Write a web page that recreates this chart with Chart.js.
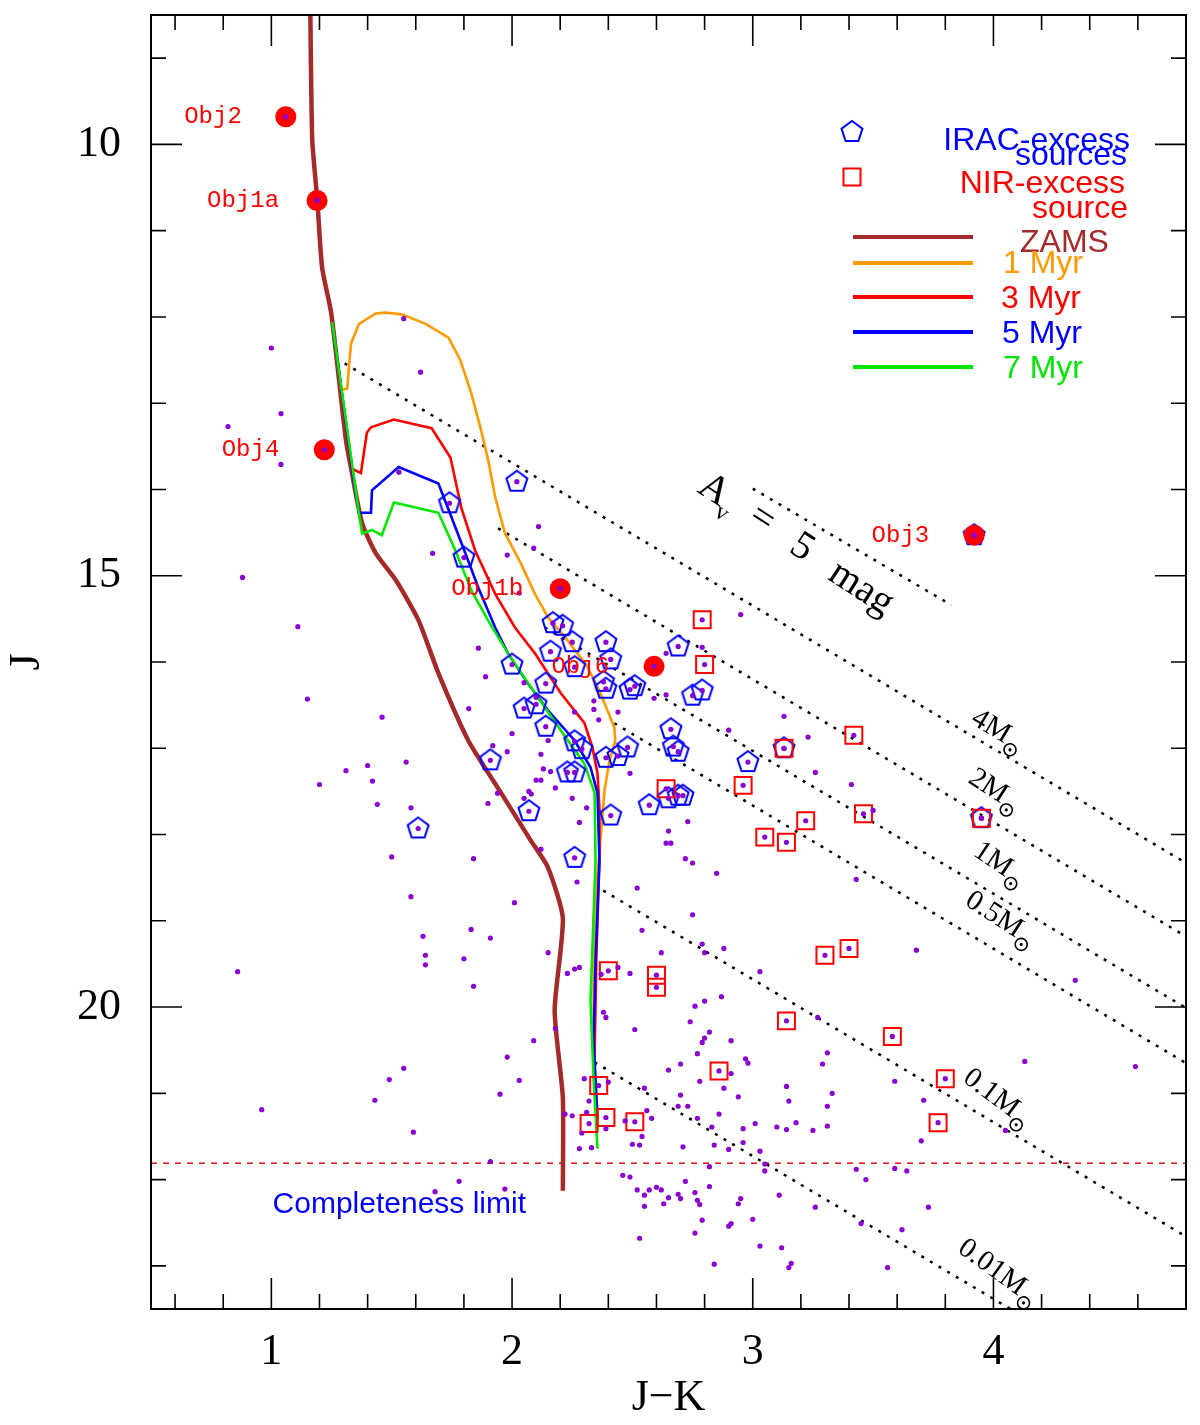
<!DOCTYPE html>
<html>
<head>
<meta charset="utf-8">
<title>J vs J-K</title>
<script src="https://cdn.jsdelivr.net/npm/chart.js@4.4.1/dist/chart.umd.min.js"></script>
<style>
  html, body { margin: 0; padding: 0; background: #fff; }
</style>
</head>
<body>
<canvas id="chart" width="1200" height="1425"></canvas>
<script>
'use strict';

// axis ticks
const xTickLabels = [1, 2, 3, 4];
const yTickLabels = [10, 15, 20];

// field stars [J-K, J]
const fieldStars = [
  [1.55,12.02],[1.62,12.64],[1.00,12.36],[1.04,13.12],[0.82,13.27],[1.04,13.71],[1.53,13.80],[0.88,15.02],
  [1.11,15.59],[1.15,16.43],[1.31,17.26],[1.40,17.20],[1.20,17.42],
  [2.11,14.43],[1.67,14.74],[1.98,14.76],[2.09,14.68],[2.03,15.20],[1.86,15.84],[1.89,16.17],[2.95,15.45],
  [2.79,15.83],[2.64,15.90],[2.59,16.42],[2.64,16.38],[2.34,16.45],[2.34,16.55],[2.36,16.67],[2.44,16.58],
  [2.26,16.58],[1.82,16.54],[2.05,16.24],[2.10,16.41],[2.00,16.83],[1.46,16.64],[2.90,16.79],[2.15,16.91],
  [1.98,17.04],[2.12,17.07],[1.92,16.97],[1.56,17.16],[1.42,17.38],[2.13,17.24],[2.16,17.27],[2.10,17.37],
  [2.12,17.37],[2.18,17.46],[2.07,17.50],[2.08,17.53],[1.94,17.52],[1.90,17.64],[2.05,17.58],[2.25,17.58],
  [2.31,17.69],[2.49,17.29],[2.65,17.96],[2.64,18.10],[2.66,18.10],[2.73,17.85],[2.28,17.86],[1.44,17.65],
  [1.58,17.69],[1.50,18.26],[1.84,18.28],[2.72,18.28],
  [3.13,16.63],[3.23,16.87],[3.26,17.28],[3.41,17.42],[3.50,17.72],[2.75,18.33],[2.85,18.45],[3.43,18.52],
  [2.75,18.93],[2.79,19.27],[2.80,19.37],[2.88,19.32],[3.03,19.59],[3.68,19.34],[4.34,19.69],
  [1.58,18.72],[2.01,18.79],[2.12,18.17],[2.27,18.55],[2.52,18.62],[1.63,19.18],[1.83,19.10],[1.91,19.20],
  [1.64,19.40],[1.64,19.51],[1.80,19.44],[2.15,19.37],[0.86,19.59],[1.84,19.76],[2.23,19.61],[2.26,19.56],
  [2.28,19.54],[2.37,19.62],[2.44,19.54],[2.49,19.61],[2.54,19.11],[2.38,20.06],[2.39,20.12],[2.51,20.26],
  [2.18,20.25],[2.09,20.39],[1.98,20.58],[1.55,20.71],[1.49,20.84],[2.03,20.85],[1.43,21.08],[1.95,21.01],
  [0.96,21.19],[2.30,20.83],[2.40,20.87],[2.32,21.09],[2.55,20.94],[2.56,21.20],[2.22,21.24],[2.25,21.26],
  [2.31,21.22],[2.47,21.32],[2.39,21.41],[2.29,21.46],[2.54,21.50],[1.59,21.45],[2.28,21.64],[2.33,21.63],
  [2.50,21.59],[2.53,21.60],[1.91,21.79],[1.78,22.02],[1.68,22.14],[1.97,22.11],[2.46,21.95],[2.49,21.97],
  [2.52,22.12],[2.55,22.18],[2.55,22.31],[2.53,22.68],
  [2.62,19.37],[2.76,19.99],[2.80,19.93],[2.87,19.88],[2.74,20.17],[2.82,20.29],[2.80,20.36],[2.79,20.41],
  [2.91,20.39],[2.77,20.54],[2.65,20.73],[2.70,20.66],[2.97,20.60],[2.98,20.65],[2.91,20.77],[2.78,20.86],
  [2.88,20.94],[2.94,21.04],[2.86,21.24],[2.70,21.02],[2.69,21.15],[2.73,21.15],[2.77,21.29],[2.83,21.39],
  [2.84,21.60],[2.90,21.65],[2.96,21.57],[2.96,21.41],[3.01,21.35],[3.03,21.67],[3.05,21.82],[3.05,21.90],
  [2.58,21.29],[2.71,21.62],[3.10,21.39],[3.14,21.42],[3.18,21.34],[3.25,21.43],[3.31,21.38],[3.15,21.09],
  [3.14,20.92],[3.31,21.15],[3.33,21.00],[3.29,20.66],[3.31,20.53],[3.59,20.86],[3.71,21.08],[3.70,21.55],
  [4.05,21.43],[4.13,20.63],[4.59,20.69],[3.27,20.12],
  [2.57,22.12],[2.60,22.09],[2.62,22.12],[2.65,22.21],[2.63,22.28],[2.69,22.17],[2.70,22.22],[2.72,22.02],
  [2.76,22.15],[2.77,22.24],[2.78,22.29],[2.82,22.08],[2.82,21.85],[2.94,22.28],[2.95,22.22],[2.79,22.47],
  [2.76,22.62],[2.90,22.54],[2.91,22.51],[3.00,22.46],[3.11,22.18],[3.26,22.32],[3.43,21.88],[3.47,22.00],
  [3.59,21.87],[3.64,21.90],[3.45,22.51],[3.62,22.58],[3.73,22.32],[2.84,22.98],[3.03,22.77],[3.12,22.79],
  [3.16,22.97],[3.15,23.02],[3.56,23.02]
];

// IRAC-excess sources
const iracSources = [
  [2.02,13.91],[1.74,14.16],[1.80,14.79],[2.17,15.55],[2.21,15.58],[2.25,15.77],[2.16,15.88],[2.39,15.77],
  [2.41,15.97],[2.26,16.06],[2.69,15.82],[2.00,16.03],[2.38,16.23],[2.39,16.31],[2.49,16.32],[2.51,16.28],
  [2.75,16.39],[2.79,16.33],[2.14,16.25],[2.05,16.54],[2.10,16.49],[2.14,16.75],[2.26,16.92],[2.29,17.01],
  [2.48,16.99],[2.44,17.09],[2.39,17.11],[2.66,16.78],[2.67,16.98],[2.69,17.04],[2.23,17.28],[2.26,17.28],
  [1.91,17.14],[2.57,17.66],[2.65,17.58],[2.69,17.55],[2.71,17.55],[2.41,17.78],[2.07,17.73],[1.61,17.93],
  [2.26,18.27],[3.13,17.00],[2.98,17.16],[3.95,17.81],[3.92,14.53]
];

// NIR-excess sources
const nirSources = [
  [2.79,15.51],[2.80,16.03],[3.42,16.85],[3.13,17.00],[2.96,17.43],[3.22,17.84],[3.46,17.76],[3.05,18.03],
  [3.14,18.09],[3.30,19.40],[3.40,19.32],[3.95,17.81],[2.64,17.47],[2.40,19.58],[2.60,19.63],[2.60,19.77],
  [2.36,20.91],[2.39,21.28],[2.32,21.35],[2.51,21.33],[3.14,20.16],[2.86,20.74],[3.58,20.34],[3.80,20.83],
  [3.77,21.34]
];

// named objects
const objNames = ['Obj2', 'Obj1a', 'Obj4', 'Obj3', 'Obj1b', 'Obj6'];
const objPoints = [[1.06,9.68],[1.19,10.65],[1.22,13.54],[3.92,14.53],[2.20,15.15],[2.59,16.05]];

// ZAMS and isochrones
const zams = [
  [1.162,8.50],[1.170,9.95],[1.191,10.65],[1.211,11.43],[1.249,11.96],[1.310,13.43],[1.335,13.81],
  [1.377,14.39],[1.434,14.74],[1.517,15.05],[1.612,15.52],[1.694,16.13],[1.818,16.91],[1.955,17.52],
  [2.078,18.07],[2.149,18.38],[2.211,18.97],[2.177,20.04],[2.211,21.05],[2.211,22.13]
];
const iso1Myr = [
  [1.253,12.06],[1.290,12.85],[1.315,12.83],[1.323,12.56],[1.331,12.31],[1.364,12.08],[1.434,11.96],
  [1.476,11.95],[1.542,11.97],[1.641,12.08],[1.736,12.24],[1.785,12.50],[1.831,12.89],[1.872,13.32],
  [1.901,13.66],[1.930,14.09],[1.971,14.51],[2.037,14.86],[2.095,15.21],[2.149,15.48],[2.231,15.75],
  [2.314,16.06],[2.367,16.36],[2.425,16.76],[2.429,16.91],[2.405,17.14],[2.384,17.49],[2.367,18.07],
  [2.347,18.76],[2.339,19.46],[2.339,20.21]
];
const iso3Myr = [
  [1.253,12.06],[1.335,13.76],[1.372,13.81],[1.397,13.34],[1.414,13.28],[1.509,13.19],[1.666,13.29],
  [1.744,13.63],[1.789,14.21],[1.847,14.71],[1.930,15.21],[2.012,15.60],[2.095,15.90],[2.202,16.36],
  [2.301,16.71],[2.334,16.99],[2.355,17.29],[2.363,17.69],[2.363,18.30],[2.351,19.34],[2.343,20.58]
];
const iso5Myr = [
  [1.253,12.06],[1.344,13.93],[1.364,14.27],[1.414,14.27],[1.418,14.01],[1.529,13.74],[1.694,13.93],
  [1.748,14.32],[1.806,14.74],[1.860,15.14],[1.930,15.60],[1.983,15.90],[2.066,16.25],[2.149,16.56],
  [2.260,16.91],[2.326,17.22],[2.355,17.52],[2.363,18.30],[2.347,19.46],[2.339,20.39],[2.355,21.28]
];
const iso7Myr = [
  [1.253,12.06],[1.364,14.28],[1.377,14.51],[1.418,14.47],[1.459,14.53],[1.509,14.15],[1.694,14.27],
  [1.765,14.71],[1.831,15.17],[1.901,15.52],[1.983,15.90],[2.095,16.36],[2.202,16.79],[2.301,17.18],
  [2.343,17.52],[2.347,18.30],[2.335,19.23],[2.326,19.92],[2.339,20.85],[2.355,21.64]
];

// reddening vectors from the isochrone masses
const massNames = ['4M', '2M', '1M', '0.5M', '0.1M', '0.01M'];
const massStart = [[1.269,12.48],[1.942,14.45],[2.136,15.60],[2.425,16.71],[2.343,18.59],[2.343,20.64]];
const massEnd = [[4.80,18.33],[4.80,19.18],[4.80,20.01],[4.80,20.65],[4.80,22.66],[4.071,23.50]];
const avVector = [[3.00,13.99],[3.825,15.34]];
const completenessJ = 21.81;

// label placement (not data)
const objLabelDx = [-44, -38, -45, -45, -37, -45];
const massLabelAt = [[3.990,16.75,31],[3.978,17.44,33],[3.998,18.29,34],[4.002,18.93,33],[3.990,21.00,37],[3.994,23.02,36]];
const avLabelAt = [2.838, 14.01, 33];

function toXY(list) {
  return list.map(p => ({x: p[0], y: p[1]}));
}

function makePentagon(r, color, lw) {
  const c = document.createElement('canvas');
  const s = Math.ceil(2 * r + 2 * lw + 2);
  c.width = s; c.height = s;
  const g = c.getContext('2d');
  g.strokeStyle = color;
  g.lineWidth = lw;
  g.beginPath();
  for (let i = 0; i < 5; i++) {
    const a = -Math.PI / 2 + i * 2 * Math.PI / 5;
    const px = s / 2 + r * Math.cos(a);
    const py = s / 2 + r * Math.sin(a);
    if (i === 0) g.moveTo(px, py); else g.lineTo(px, py);
  }
  g.closePath();
  g.stroke();
  return c;
}

const pentagon = makePentagon(11, '#0000ff', 2);

const ZAMS_C = '#a52a2a', C1 = '#ff9900', C3 = '#ff0000', C5 = '#0000ff', C7 = '#00e600';
const DOT_C = '#8a00d4';

function lineSet(list, color, width, order, dash, tension) {
  return {
    data: toXY(list), showLine: true, pointRadius: 0, borderColor: color,
    borderWidth: width, borderDash: dash || [], fill: false, tension: tension || 0, order: order
  };
}

let datasets = [];
// purple dots: field plus the centres of every marked source
let allDots = fieldStars.concat(iracSources, nirSources, objPoints);
datasets.push({data: toXY(allDots), pointRadius: 2.6, pointBackgroundColor: DOT_C, pointBorderWidth: 0, order: 0});
datasets.push({data: toXY(objPoints), pointRadius: 10.5, pointBackgroundColor: '#ff0000', pointBorderWidth: 0, order: 1});
datasets.push({data: toXY(nirSources), pointStyle: 'rect', pointRadius: 12, pointBorderColor: '#ff0000',
  pointBackgroundColor: 'rgba(0,0,0,0)', pointBorderWidth: 2, order: 2});
datasets.push({data: toXY(iracSources), pointStyle: pentagon, pointRadius: 11, order: 3});
datasets.push(lineSet(iso7Myr, C7, 2.6, 4));
datasets.push(lineSet(iso5Myr, C5, 2.6, 5));
datasets.push(lineSet(iso3Myr, C3, 2.6, 6));
datasets.push(lineSet(iso1Myr, C1, 2.6, 7));
datasets.push(lineSet(zams, ZAMS_C, 4.5, 8, [], 0.2));
for (let i = 0; i < massNames.length; i++) {
  datasets.push(lineSet([massStart[i], massEnd[i]], '#000', 2.5, 9, [3, 7]));
}
datasets.push(lineSet(avVector, '#000', 2.5, 9, [3, 7]));
datasets.push(lineSet([[0.5, completenessJ], [4.8, completenessJ]], '#ee1c25', 1.6, 9, [6, 6]));

function drawSun(ctx, cx, cy) {
  ctx.beginPath();
  ctx.arc(cx, cy, 6, 0, 2 * Math.PI);
  ctx.lineWidth = 1.6;
  ctx.stroke();
  ctx.beginPath();
  ctx.arc(cx, cy, 1.6, 0, 2 * Math.PI);
  ctx.fill();
}

const decor = {
  id: 'decor',
  afterDraw(chart) {
    const ctx = chart.ctx;
    const a = chart.chartArea;
    const xs = chart.scales.x, ys = chart.scales.y;
    ctx.save();

    // frame and inward ticks
    ctx.strokeStyle = '#000';
    ctx.lineWidth = 2;
    ctx.strokeRect(a.left, a.top, a.right - a.left, a.bottom - a.top);
    ctx.lineWidth = 1.6;
    ctx.beginPath();
    for (let i = 3; i <= 23; i++) {
      const px = xs.getPixelForValue(i / 5);
      const len = (i % 5 === 0) ? 31 : 15;
      ctx.moveTo(px, a.bottom); ctx.lineTo(px, a.bottom - len);
      ctx.moveTo(px, a.top); ctx.lineTo(px, a.top + len);
    }
    for (let j = 9; j <= 23; j++) {
      const py = ys.getPixelForValue(j);
      const len = (j % 5 === 0) ? 31 : 15;
      ctx.moveTo(a.left, py); ctx.lineTo(a.left + len, py);
      ctx.moveTo(a.right, py); ctx.lineTo(a.right - len, py);
    }
    ctx.stroke();

    // object names
    ctx.fillStyle = '#ff0000';
    ctx.font = '24px "Liberation Mono"';
    ctx.textAlign = 'right';
    ctx.textBaseline = 'middle';
    objNames.forEach((name, i) => {
      ctx.fillText(name, xs.getPixelForValue(objPoints[i][0]) + objLabelDx[i], ys.getPixelForValue(objPoints[i][1]));
    });

    // mass labels on the reddening vectors
    ctx.fillStyle = '#000';
    ctx.strokeStyle = '#000';
    massNames.forEach((name, i) => {
      const m = massLabelAt[i];
      ctx.save();
      ctx.translate(xs.getPixelForValue(m[0]), ys.getPixelForValue(m[1]));
      ctx.rotate(m[2] * Math.PI / 180);
      ctx.font = '29px "Liberation Serif"';
      ctx.textAlign = 'center';
      ctx.textBaseline = 'middle';
      ctx.fillText(name, 0, 0);
      const w = ctx.measureText(name).width;
      drawSun(ctx, w / 2 + 8, 10);
      ctx.restore();
    });

    // A_v = 5 mag
    ctx.save();
    ctx.translate(xs.getPixelForValue(avLabelAt[0]), ys.getPixelForValue(avLabelAt[1]));
    ctx.rotate(avLabelAt[2] * Math.PI / 180);
    ctx.textAlign = 'center';
    ctx.textBaseline = 'middle';
    ctx.font = '40px "Liberation Serif"';
    ctx.fillText('A', 0, 0);
    ctx.fillText('=', 56, -2);
    ctx.fillText('5', 105, 0);
    ctx.fillText('mag', 177, 2);
    ctx.font = '24px "Liberation Serif"';
    ctx.fillText('v', 19, 15);
    ctx.restore();

    // completeness label
    ctx.fillStyle = '#0000ff';
    ctx.font = '30px "Liberation Sans"';
    ctx.textAlign = 'left';
    ctx.textBaseline = 'alphabetic';
    ctx.fillText('Completeness limit', xs.getPixelForValue(1.005), ys.getPixelForValue(22.39));

    // legend
    ctx.drawImage(pentagon, 852 - pentagon.width / 2, 132 - pentagon.height / 2);
    ctx.strokeStyle = '#ff0000';
    ctx.lineWidth = 2;
    ctx.strokeRect(852 - 8.5, 177 - 8.5, 17, 17);
    ctx.font = '32px "Liberation Sans"';
    ctx.textAlign = 'right';
    ctx.fillStyle = '#0000ff';
    ctx.fillText('IRAC-excess', 1130, 150);
    ctx.fillText('sources', 1127, 165);
    ctx.fillStyle = '#ff0000';
    ctx.fillText('NIR-excess', 1125, 193);
    ctx.fillText('source', 1128, 218);
    const leg = [['ZAMS', ZAMS_C, 237, 1020, 252], ['1 Myr', C1, 263, 1003, 273], ['3 Myr', C3, 297, 1001, 308],
                 ['5 Myr', C5, 332, 1002, 343], ['7 Myr', C7, 367, 1003, 378]];
    ctx.textAlign = 'left';
    ctx.lineWidth = 4;
    leg.forEach(l => {
      ctx.strokeStyle = l[1];
      ctx.beginPath(); ctx.moveTo(853, l[2]); ctx.lineTo(973, l[2]); ctx.stroke();
      ctx.fillStyle = l[1];
      ctx.fillText(l[0], l[3], l[4]);
    });
    ctx.restore();
  }
};

new Chart(document.getElementById('chart'), {
  type: 'scatter',
  data: {datasets: datasets},
  options: {
    responsive: false,
    animation: false,
    devicePixelRatio: 1,
    events: [],
    layout: {padding: {left: 1, right: 8, top: 15, bottom: 0}},
    plugins: {legend: {display: false}, tooltip: {enabled: false}},
    scales: {
      x: {
        type: 'linear', min: 0.5, max: 4.8,
        grid: {display: false, drawTicks: false},
        border: {display: false},
        afterBuildTicks: s => { s.ticks = xTickLabels.map(v => ({value: v})); },
        afterFit: s => { s.height = 116; s.paddingLeft = 0; s.paddingRight = 0; },
        ticks: {autoSkip: false, maxRotation: 0, padding: 17, color: '#000',
          font: {family: 'Liberation Serif', size: 44}},
        title: {display: true, text: 'J\u2212K', color: '#000', padding: {top: 0, bottom: 0},
          font: {family: 'Liberation Serif', size: 44}}
      },
      y: {
        type: 'linear', min: 8.5, max: 23.5, reverse: true,
        grid: {display: false, drawTicks: false},
        border: {display: false},
        afterBuildTicks: s => { s.ticks = yTickLabels.map(v => ({value: v})); },
        afterFit: s => { s.width = 150; s.paddingTop = 0; s.paddingBottom = 0; },
        ticks: {autoSkip: false, padding: 30, color: '#000',
          font: {family: 'Liberation Serif', size: 44}},
        title: {display: true, text: 'J', color: '#000', padding: {top: 0, bottom: 0},
          font: {family: 'Liberation Serif', size: 44}}
      }
    }
  },
  plugins: [decor]
});
</script>
</body>
</html>
